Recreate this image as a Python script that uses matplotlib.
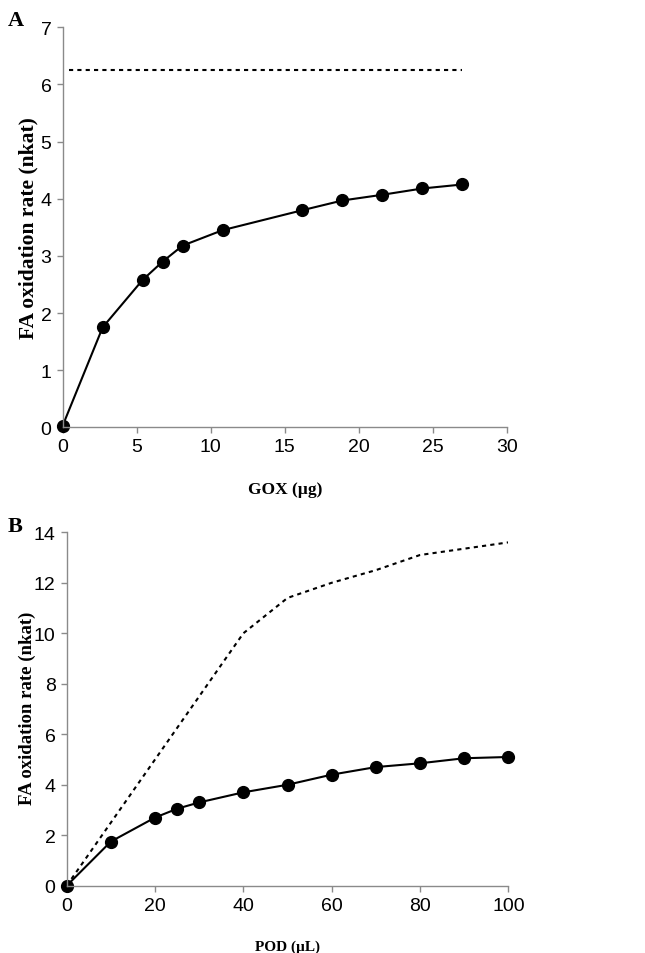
import matplotlib
matplotlib.use("Agg")
import matplotlib.pyplot as plt

# Panel A data
gox_ug = [0, 2.7, 5.4, 6.75, 8.1, 10.8, 16.2, 18.9, 21.6, 24.3, 27.0]
rate_a = [0.03, 1.75, 2.58, 2.9, 3.18, 3.45, 3.8, 3.97, 4.07, 4.18, 4.25]
max_a_x = [0.4, 27.0]
max_a_y = [6.25, 6.25]

# Panel B data
pod_ul = [0, 10, 20, 25, 30, 40, 50, 60, 70, 80, 90, 100]
rate_b = [0.0, 1.75, 2.7, 3.05, 3.3, 3.7, 4.0, 4.4, 4.7, 4.85, 5.05, 5.1]
max_b_x = [0, 10, 20, 30, 40, 50, 60, 70, 80, 90, 100]
max_b_y = [0.0, 2.5, 5.0, 7.5, 10.0, 11.4, 12.0, 12.5, 13.1, 13.35, 13.6]

fig = plt.figure(figsize=(6.45, 9.54), dpi=100)

label_font = dict(family="Liberation Serif", weight="bold")
spine_col = "#8a8a8a"


def style(ax):
    for s in ["top", "right"]:
        ax.spines[s].set_visible(False)
    for s in ["left", "bottom"]:
        ax.spines[s].set_color(spine_col)
        ax.spines[s].set_linewidth(1.0)
    ax.tick_params(direction="out", length=4, width=1.0, color=spine_col,
                   pad=4, labelsize=14)
    for lab in ax.get_xticklabels() + ax.get_yticklabels():
        lab.set_fontfamily("Liberation Sans")


axA = fig.add_axes([0.0972, 0.551, 0.6884, 0.4193])
axA.plot(max_a_x, max_a_y, color="black", lw=1.5, linestyle=(0, (2.0, 2.0)))
axA.plot(gox_ug, rate_a, color="black", lw=1.5, marker="o", markersize=8.5,
         clip_on=False)
axA.set_xlim(0, 30)
axA.set_ylim(0, 7)
axA.set_xticks([0, 5, 10, 15, 20, 25, 30])
axA.set_yticks(range(0, 8))
style(axA)
axA.set_xlabel("GOX (µg)", fontsize=12.5, **label_font)
axA.set_ylabel("FA oxidation rate (nkat)", fontsize=15.5, **label_font)
axA.xaxis.set_label_coords(0.50, -0.154)
axA.yaxis.set_label_coords(-0.076, 0.5)
axA.xaxis.label.set_va("center")
axA.yaxis.label.set_va("center")

axB = fig.add_axes([0.1034, 0.0705, 0.6847, 0.3705])
axB.plot(max_b_x, max_b_y, color="black", lw=1.5, linestyle=(0, (2.0, 2.0)))
axB.plot(pod_ul, rate_b, color="black", lw=1.5, marker="o", markersize=8.5,
         clip_on=False)
axB.set_xlim(0, 100)
axB.set_ylim(0, 14)
axB.set_xticks(range(0, 101, 20))
axB.set_yticks(range(0, 15, 2))
style(axB)
axB.set_xlabel("POD (µL)", fontsize=11, **label_font)
axB.set_ylabel("FA oxidation rate (nkat)", fontsize=13.5, **label_font)
axB.xaxis.set_label_coords(0.501, -0.171)
axB.yaxis.set_label_coords(-0.09, 0.504)
axB.xaxis.label.set_va("center")
axB.yaxis.label.set_va("center")

fig.text(15.5 / 645, 1 - 20.5 / 954, "A", fontsize=16, ha="center", va="center",
         **label_font)
fig.text(15 / 645, 1 - 527 / 954, "B", fontsize=16, ha="center", va="center",
         **label_font)

fig.savefig("out.png", dpi=100)
